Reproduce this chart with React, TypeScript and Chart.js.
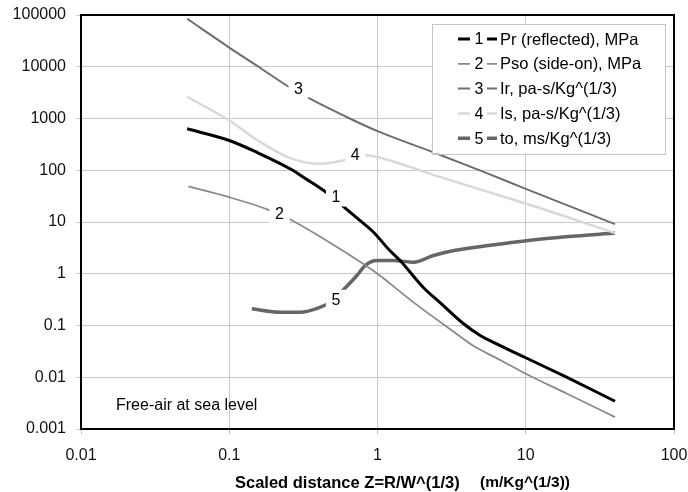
import React, { useEffect, useRef } from "react";
import { Chart, registerables } from "chart.js";

Chart.register(...registerables);

// ---- data ----
const seriesNames = [
  "Pr (reflected), MPa",
  "Pso (side-on), MPa",
  "Ir, pa-s/Kg^(1/3)",
  "Is, pa-s/Kg^(1/3)",
  "to, ms/Kg^(1/3)",
];
const seriesTags = ["1", "2", "3", "4", "5"];

const prX = [0.052, 0.1, 0.153, 0.257, 0.33, 0.45, 0.62, 0.76, 0.94, 1.21, 1.42, 2.03, 2.7, 3.81, 4.93, 6.72, 10, 19, 40];
const prY = [632, 376, 223, 107, 68, 37.7, 17.6, 10.7, 6.35, 2.81, 1.8, 0.55, 0.262, 0.108, 0.064, 0.041, 0.0238, 0.0099, 0.00344];

const psoX = [0.053, 0.1, 0.184, 0.258, 0.452, 0.8, 0.99, 1.75, 3.28, 4.4, 6.72, 10, 19, 40];
const psoY = [48.6, 30.1, 17.2, 11.2, 4.4, 1.56, 1.02, 0.28, 0.075, 0.041, 0.0216, 0.0117, 0.0048, 0.0017];

const irX = [0.052, 0.1, 0.162, 0.25, 0.345, 0.65, 1.0, 2.5, 5, 10, 40];
const irY = [84500, 23500, 9460, 4150, 2470, 1000, 570, 211, 97, 43.8, 9.1];

const isX = [0.052, 0.1, 0.162, 0.258, 0.41, 0.58, 0.84, 1.04, 2.5, 5, 10, 40];
const isY = [2630, 914, 350, 172, 133, 154, 195, 175, 78, 42, 22.8, 6.1];

const toX = [0.142, 0.221, 0.301, 0.411, 0.468, 0.605, 0.726, 0.826, 0.99, 1.28, 1.75, 2.38, 3.28, 6.72, 11.9, 40];
const toY = [0.21, 0.181, 0.181, 0.226, 0.27, 0.53, 0.925, 1.44, 1.8, 1.8, 1.67, 2.25, 2.81, 3.76, 4.6, 6.1];

// curve tag positions (data units)
const tagX = [0.524, 0.218, 0.293, 0.708, 0.524];
const tagY = [31.1, 14.8, 3850, 199, 0.314];

const xTicks = [0.01, 0.1, 1, 10, 100];
const yTicks = [0.001, 0.01, 0.1, 1, 10, 100, 1000, 10000, 100000];

const noteText = "Free-air at sea level";
const xTitleA = "Scaled distance Z=R/W^(1/3)";
const xTitleB = "(m/Kg^(1/3))";

// ---- styles ----
const FAMILY = "'Liberation Sans', Arial, Helvetica, sans-serif";
const colors = ["#000000", "#8a8a8a", "#6e6e6e", "#d9d9d9", "#666666"];
const widths = [3, 1.8, 2, 2.5, 3.5];

const pts = (xs: number[], ys: number[]) => xs.map((x, i) => ({ x, y: ys[i] }));

const overlayPlugin = {
  id: "overlay",
  afterDatasetsDraw(chart: any) {
    const { ctx, chartArea, scales } = chart;
    const xs = scales.x;
    const ys = scales.y;
    ctx.save();

    // curve tags with white boxes
    ctx.font = `16px ${FAMILY}`;
    ctx.textAlign = "center";
    ctx.textBaseline = "middle";
    tagX.forEach((tx, i) => {
      const px = xs.getPixelForValue(tx);
      const py = ys.getPixelForValue(tagY[i]);
      ctx.fillStyle = "#ffffff";
      ctx.fillRect(px - 10, py - 10, 20, 20);
      ctx.fillStyle = "#000000";
      ctx.fillText(seriesTags[i], px, py + 1);
    });

    // plot border
    ctx.strokeStyle = "#000000";
    ctx.lineWidth = 2;
    ctx.strokeRect(
      chartArea.left,
      chartArea.top,
      chartArea.right - chartArea.left,
      chartArea.bottom - chartArea.top
    );

    // legend
    const lx = chartArea.right - 242;
    const ly = chartArea.top + 8.5;
    const lw = 233;
    const lh = 130;
    ctx.fillStyle = "#ffffff";
    ctx.fillRect(lx, ly, lw, lh);
    ctx.strokeStyle = "#c4c4c4";
    ctx.lineWidth = 1;
    ctx.strokeRect(Math.round(lx) + 0.5, Math.round(ly) + 0.5, lw, lh);
    seriesNames.forEach((name, i) => {
      const ry = ly + 15.5 + i * 24.8;
      const ds = chart.data.datasets[i];
      ctx.strokeStyle = ds.borderColor;
      ctx.lineWidth = ds.borderWidth;
      ctx.beginPath();
      ctx.moveTo(lx + 26, ry);
      ctx.lineTo(lx + 38, ry);
      ctx.moveTo(lx + 55, ry);
      ctx.lineTo(lx + 65, ry);
      ctx.stroke();
      ctx.fillStyle = "#000000";
      ctx.font = `16px ${FAMILY}`;
      ctx.textAlign = "center";
      ctx.fillText(seriesTags[i], lx + 47, ry + 1);
      ctx.textAlign = "left";
      ctx.font = `16.5px ${FAMILY}`;
      ctx.fillText(name, lx + 68, ry + 1);
    });

    // note
    ctx.font = `16px ${FAMILY}`;
    ctx.textAlign = "left";
    ctx.fillText(noteText, chartArea.left + 35, chartArea.bottom - 23);

    // x axis title
    ctx.font = `bold 16.5px ${FAMILY}`;
    ctx.textAlign = "left";
    ctx.fillText(xTitleA, 235, chart.height - 9);
    ctx.font = `bold 15.5px ${FAMILY}`;
    ctx.textAlign = "right";
    ctx.fillText(xTitleB, 570, chart.height - 9);

    ctx.restore();
  },
};

export default function App() {
  const ref = useRef<HTMLCanvasElement | null>(null);

  useEffect(() => {
    if (!ref.current) return;
    const data = [pts(prX, prY), pts(psoX, psoY), pts(irX, irY), pts(isX, isY), pts(toX, toY)];
    const chart = new Chart(ref.current, {
      type: "line",
      data: {
        datasets: data.map((d, i) => ({
          label: seriesNames[i],
          data: d,
          borderColor: colors[i],
          backgroundColor: colors[i],
          borderWidth: widths[i],
          pointRadius: 0,
          cubicInterpolationMode: "monotone" as const,
          fill: false,
        })),
      },
      options: {
        animation: false,
        responsive: false,
        events: [],
        layout: { autoPadding: false, padding: { top: 15, right: 14, left: 0, bottom: 0 } },
        plugins: { legend: { display: false }, tooltip: { enabled: false }, title: { display: false } },
        scales: {
          x: {
            type: "logarithmic",
            min: 0.01,
            max: 100,
            afterBuildTicks: (s: any) => {
              s.ticks = xTicks.map((v) => ({ value: v }));
            },
            afterFit: (s: any) => {
              s.height = 63;
              s.paddingLeft = 0;
              s.paddingRight = 0;
              s.paddingTop = 0;
              s.paddingBottom = 0;
            },
            ticks: {
              callback: (v: any) => String(v),
              font: { size: 16, family: FAMILY },
              color: "#111111",
              padding: 12,
              maxRotation: 0,
              autoSkip: false,
            },
            grid: { color: "#c8c8c8", lineWidth: 1, tickLength: 5 },
            border: { display: false },
          },
          y: {
            type: "logarithmic",
            min: 0.001,
            max: 100000,
            afterBuildTicks: (s: any) => {
              s.ticks = yTicks.map((v) => ({ value: v }));
            },
            afterFit: (s: any) => {
              s.width = 81;
              s.paddingLeft = 0;
              s.paddingRight = 0;
              s.paddingTop = 0;
              s.paddingBottom = 0;
            },
            ticks: {
              callback: (v: any) => String(v),
              font: { size: 16, family: FAMILY },
              color: "#111111",
              padding: 10,
              autoSkip: false,
            },
            grid: { color: "#c8c8c8", lineWidth: 1, tickLength: 5 },
            border: { display: false },
          },
        },
      },
      plugins: [overlayPlugin],
    });
    return () => chart.destroy();
  }, []);

  return (
    <div style={{ position: "fixed", left: 0, top: 0, width: 688, height: 492, background: "#ffffff" }}>
      <canvas ref={ref} width={688} height={492} style={{ display: "block", width: 688, height: 492 }} />
    </div>
  );
}
